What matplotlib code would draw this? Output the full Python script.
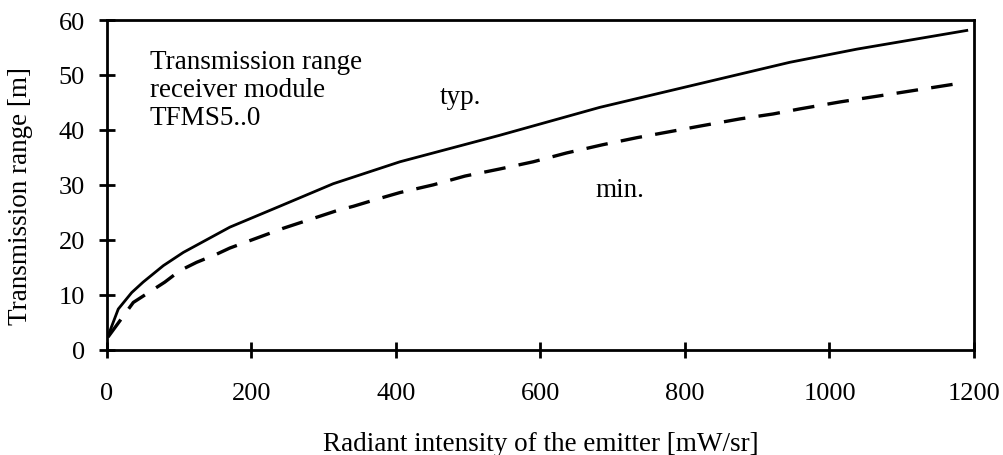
import matplotlib
matplotlib.use("Agg")
import matplotlib.pyplot as plt

# Data
typ_x = [1.4, 15.6, 34.2, 50, 78, 105.6, 170, 239, 313, 405.5, 543, 682, 807, 945, 1038, 1190]
typ_y = [2.5, 7.4, 10.4, 12.3, 15.3, 17.7, 22.3, 26.1, 30.2, 34.2, 39.0, 44.1, 48.0, 52.3, 54.7, 58.1]

min_x = [1.4, 36.4, 80, 101, 124, 152, 170, 225.6, 244, 318, 341, 368.6, 405.5,
         451.6, 495.5, 544, 590, 636, 686, 734, 784, 821, 876, 922, 958, 1015, 1084, 1181]
min_y = [2.3, 8.6, 12.3, 14.4, 15.9, 17.4, 18.5, 21.2, 22.1, 25.3, 26.1, 27.2, 28.6,
         30.0, 31.6, 32.9, 34.2, 35.8, 37.3, 38.6, 39.8, 40.7, 42.0, 42.9, 43.8, 45.1, 46.5, 48.5]

x_ticks = [0, 200, 400, 600, 800, 1000, 1200]
y_ticks = [0, 10, 20, 30, 40, 50, 60]

title_lines = "Transmission range\nreceiver module\nTFMS5..0"
x_label = "Radiant intensity of the emitter [mW/sr]"
y_label = "Transmission range [m]"

plt.rcParams['font.family'] = ['Liberation Serif', 'DejaVu Serif']
fs_tick = 19
fs = 19.5

W, H = 1004, 456
L, R, T, B = 107, 974, 21, 350.7
fig = plt.figure(figsize=(W / 100, H / 100), dpi=100)
ax = fig.add_axes([L / W, 1 - B / H, (R - L) / W, (B - T) / H])

ax.plot(typ_x, typ_y, color='black', lw=2.0, solid_joinstyle='round')
ax.plot(min_x, min_y, color='black', lw=2.4, dashes=(6.5, 4.0))

ax.set_xlim(0, 1200)
ax.set_ylim(0, 60)
ax.set_xticks(x_ticks)
ax.set_yticks(y_ticks)
ax.tick_params(direction='inout', length=12, width=2, labelsize=fs_tick,
               top=False, right=False)
ax.tick_params(axis='x', pad=17)
ax.tick_params(axis='y', pad=10)
for s in ax.spines.values():
    s.set_linewidth(2)
    s.set_color('black')

ax.set_xlabel(x_label, fontsize=fs)
ax.set_ylabel(y_label, fontsize=fs)
ax.xaxis.set_label_coords(0.5, (B - 432) / (B - T))
ax.yaxis.set_label_coords((33 - L) / (R - L), (B - 196) / (B - T))


def px2data(px, py):
    return (px - L) / (R - L) * 1200, (B - py) / (B - T) * 60


ax.text(*px2data(150, 50), title_lines, fontsize=fs, va='top', ha='left', linespacing=1.15)
ax.text(*px2data(440, 98), "typ.", fontsize=fs, va='center', ha='left')
ax.text(*px2data(595, 191), "min.", fontsize=fs, va='center', ha='left')

fig.savefig("out.png", dpi=100)
